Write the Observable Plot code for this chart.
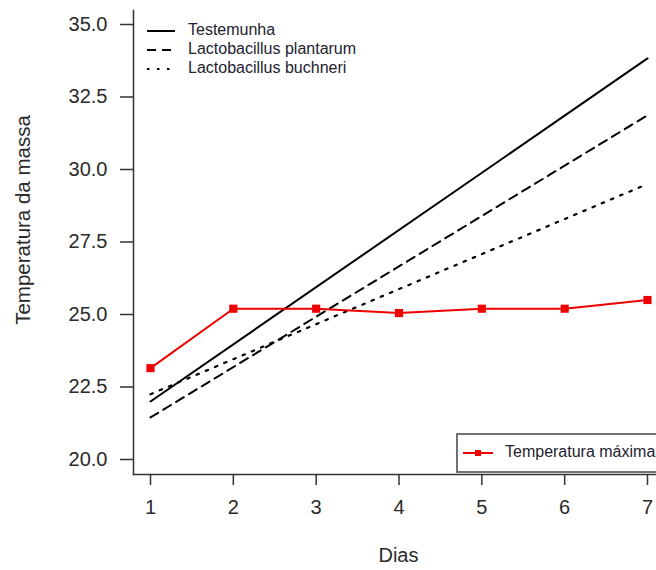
<!DOCTYPE html>
<html>
<head>
<meta charset="utf-8">
<script src="https://cdn.jsdelivr.net/npm/d3@7"></script>
<script src="https://cdn.jsdelivr.net/npm/@observablehq/plot@0.6"></script>
<style>
  html, body { margin: 0; padding: 0; background: #fff; }
  svg { font-family: "Liberation Sans", Arial, sans-serif; }
</style>
</head>
<body>
<div id="chart"></div>
<script>
// ---- data ----
const days = [1, 2, 3, 4, 5, 6, 7];
const tempMaxima = [23.15, 25.2, 25.2, 25.05, 25.2, 25.2, 25.5];

const fitDays = [1, 7];
const testemunha = [22.0, 33.83];
const plantarum = [21.45, 31.87];
const buchneri = [22.25, 29.5];

const xTicks = [1, 2, 3, 4, 5, 6, 7];
const yTicks = [20, 22.5, 25, 27.5, 30, 32.5, 35];

const seriesNames = ["Testemunha", "Lactobacillus plantarum", "Lactobacillus buchneri"];
const maxName = "Temperatura máxima";
const xTitle = "Dias";
const yTitle = "Temperatura da massa";

const toRows = (xs, ys) => xs.map((d, i) => ({x: d, y: ys[i]}));
const rowsTest = toRows(fitDays, testemunha);
const rowsPlan = toRows(fitDays, plantarum);
const rowsBuch = toRows(fitDays, buchneri);
const rowsMax = toRows(days, tempMaxima);

const W = 656, H = 570;
const mL = 133, mR = 0, mT = 10, mB = 96;

const chart = Plot.plot({
  width: W,
  height: H,
  marginLeft: mL,
  marginRight: mR,
  marginTop: mT,
  marginBottom: mB,
  style: {fontFamily: "Liberation Sans, Arial, sans-serif", fontSize: "20px", color: "#2a2a2a", background: "#fff"},
  x: {domain: [1, 7], range: [150, 647]},
  y: {domain: [20, 35], range: [459, 24]},
  marks: [
    Plot.axisX({ticks: xTicks, tickSize: 11, tickPadding: 14, tickFormat: d => String(d), label: null, stroke: "#333", strokeWidth: 1.5}),
    Plot.axisY({ticks: yTicks, tickSize: 13, tickPadding: 13, tickFormat: d => d.toFixed(1), label: null, stroke: "#333", strokeWidth: 1.5}),
    Plot.frame({anchor: "left", stroke: "#333", strokeWidth: 1.5}),
    Plot.frame({anchor: "bottom", stroke: "#333", strokeWidth: 1.5}),
    Plot.line(rowsTest, {x: "x", y: "y", stroke: "#000", strokeWidth: 2}),
    Plot.line(rowsPlan, {x: "x", y: "y", stroke: "#000", strokeWidth: 2, strokeDasharray: "9,6"}),
    Plot.line(rowsBuch, {x: "x", y: "y", stroke: "#000", strokeWidth: 2.2, strokeDasharray: "2.5,7.5"}),
    Plot.line(rowsMax, {x: "x", y: "y", stroke: "#ee0000", strokeWidth: 2}),
    Plot.dot(rowsMax, {x: "x", y: "y", symbol: "square", r: 4.6, fill: "#ee0000", stroke: "none"})
  ]
});

const svg = d3.select(chart);
const font = "Liberation Sans, Arial, sans-serif";

// axis titles
svg.append("text")
  .attr("x", (150 + 647) / 2).attr("y", 557)
  .attr("text-anchor", "middle").attr("dominant-baseline", "middle")
  .attr("font-family", font).attr("font-size", 20).attr("fill", "#2a2a2a")
  .text(xTitle);
svg.append("text")
  .attr("transform", "translate(25,220) rotate(-90)")
  .attr("text-anchor", "middle").attr("dominant-baseline", "middle")
  .attr("font-family", font).attr("font-size", 20.5).attr("fill", "#2a2a2a")
  .text(yTitle);

// top-left legend
const dashes = [null, "9,6", "2.5,7.5"];
const legendRowsY = [31, 50, 69];
seriesNames.forEach((name, i) => {
  const g = svg.append("g");
  g.append("line")
    .attr("x1", 147).attr("x2", 175).attr("y1", legendRowsY[i]).attr("y2", legendRowsY[i])
    .attr("stroke", "#000").attr("stroke-width", 2)
    .attr("stroke-dasharray", dashes[i]);
  g.append("text")
    .attr("x", 188).attr("y", legendRowsY[i])
    .attr("text-anchor", "start")
    .attr("dominant-baseline", "middle")
    .attr("font-family", font).attr("font-size", 16).attr("fill", "#22222e")
    .text(name);
});

// bottom-right legend
const lg = svg.append("g");
lg.append("rect")
  .attr("x", 457).attr("y", 434).attr("width", 215).attr("height", 38)
  .attr("fill", "#fff").attr("stroke", "#444").attr("stroke-width", 1.5);
lg.append("line")
  .attr("x1", 463).attr("x2", 493).attr("y1", 453).attr("y2", 453)
  .attr("stroke", "#ee0000").attr("stroke-width", 2);
lg.append("rect")
  .attr("x", 475).attr("y", 450).attr("width", 6).attr("height", 6)
  .attr("fill", "#ee0000");
lg.append("text")
  .attr("x", 505).attr("y", 453)
  .attr("text-anchor", "start")
  .attr("dominant-baseline", "middle")
  .attr("font-family", font).attr("font-size", 16).attr("fill", "#22222e")
  .text(maxName);

document.getElementById("chart").appendChild(chart);
</script>
</body>
</html>
